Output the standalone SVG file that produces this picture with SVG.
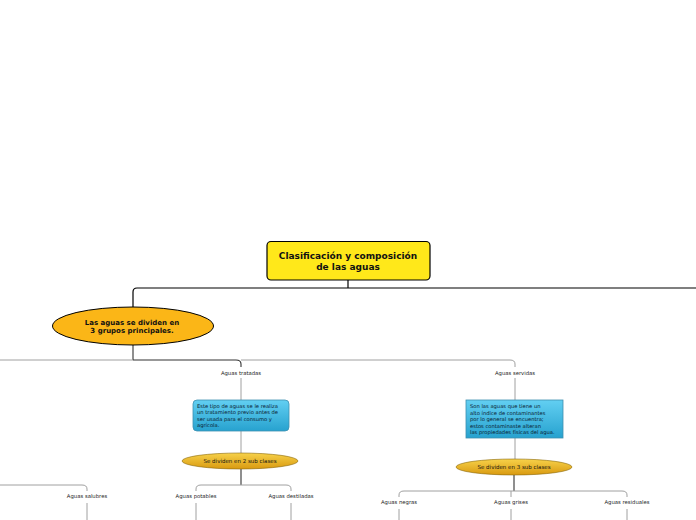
<svg xmlns="http://www.w3.org/2000/svg" width="696" height="520" viewBox="0 0 696 520">
<defs>
<linearGradient id="blue" x1="0" y1="0" x2="0" y2="1">
<stop offset="0" stop-color="#62cff2"/>
<stop offset="1" stop-color="#27a2cf"/>
</linearGradient>
<linearGradient id="gold" x1="0" y1="0" x2="0" y2="1">
<stop offset="0" stop-color="#f7d24a"/>
<stop offset="1" stop-color="#d99a10"/>
</linearGradient>
<style>
.main{fill:none;stroke:#000;stroke-width:1.2}
.dark{fill:none;stroke:#333;stroke-width:1.1}
.gray{fill:none;stroke:#a0a0a0;stroke-width:1}
.t{font-family:"DejaVu Sans",Verdana,sans-serif;fill:#111}
.b{font-weight:bold}
.lbl{font-size:5.3px;text-anchor:middle;fill:#222}
.box{font-size:5.2px;fill:#0a2030}
.sub{font-size:5.5px;text-anchor:middle;fill:#111}
</style>
</defs>
<rect width="696" height="520" fill="#fff"/>
<g id="connectors">
<path class="main" d="M348,280 V288"/>
<path class="main" d="M696,288 H137 Q133,288 133,292 V307"/>
<path class="dark" d="M133,345 V360"/>
<path class="gray" d="M0,360 H133"/>
<path class="dark" d="M133,360 H236 Q241,360 241,364 V367"/>
<path class="gray" d="M241,360 H510 Q515,360 515,364 V367"/>
<path class="gray" d="M241,378 V400"/>
<path class="gray" d="M241,431 V453"/>
<path class="dark" d="M241,469 V485"/>
<path class="gray" d="M201,485 H286 Q291,485 291,489 V491"/>
<path class="gray" d="M201,485 Q196,485 196,489 V491"/>
<path class="gray" d="M0,485 H82 Q87,485 87,489 V491"/>
<path class="gray" d="M87,503 V520"/>
<path class="gray" d="M196,503 V520"/>
<path class="gray" d="M291,503 V520"/>
<path class="gray" d="M515,378 V400"/>
<path class="gray" d="M515,438 V459"/>
<path class="dark" d="M514,475 V491"/>
<path class="gray" d="M404,491 H622 Q627,491 627,495 V497"/>
<path class="gray" d="M404,491 Q399,491 399,495 V497"/>
<path class="gray" d="M511,491 V497"/>
<path class="gray" d="M399,509 V520"/>
<path class="gray" d="M511,509 V520"/>
<path class="gray" d="M627,509 V520"/>
</g>
<g id="root">
<rect x="267" y="241.5" width="163" height="38.5" rx="4" fill="#ffe81a" stroke="#000" stroke-width="1.2"/>
<text class="t b" x="348" y="259" font-size="9" text-anchor="middle">Clasificación y composición</text>
<text class="t b" x="348" y="270" font-size="9" text-anchor="middle">de las aguas</text>
</g>
<g id="grupos">
<ellipse cx="133" cy="326" rx="80.5" ry="19" fill="#fbb617" stroke="#000" stroke-width="1"/>
<text class="t b" x="132" y="324.5" font-size="7" text-anchor="middle">Las aguas se dividen en</text>
<text class="t b" x="132" y="333" font-size="7" text-anchor="middle">3 grupos principales.</text>
</g>
<g id="tratadas">
<text class="t lbl" x="241" y="375">Aguas tratadas</text>
</g>
<g id="tratadas-desc">
<rect x="193" y="400" width="96" height="31" rx="4" fill="url(#blue)" stroke="#3d8fb0" stroke-width="0.8"/>
<text class="t box" x="197" y="408">Este tipo de aguas se le realiza</text>
<text class="t box" x="197" y="414.3">un tratamiento previo antes de</text>
<text class="t box" x="197" y="420.6">ser usada para el consumo y</text>
<text class="t box" x="197" y="426.9">agrícola.</text>
</g>
<g id="sub2">
<ellipse cx="240" cy="461" rx="58" ry="8" fill="url(#gold)" stroke="#8a6a10" stroke-width="0.6"/>
<text class="t sub" x="240" y="463">Se dividen en 2 sub clases</text>
</g>
<g id="salubres"><text class="t lbl" x="87" y="498">Aguas salubres</text></g>
<g id="potables"><text class="t lbl" x="196" y="498">Aguas potables</text></g>
<g id="destiladas"><text class="t lbl" x="291" y="498">Aguas destiladas</text></g>
<g id="servidas">
<text class="t lbl" x="515" y="375">Aguas servidas</text>
</g>
<g id="servidas-desc">
<rect x="466" y="400" width="97" height="38" fill="url(#blue)" stroke="#3d8fb0" stroke-width="0.8"/>
<text class="t box" x="470" y="408">Son las aguas que tiene un</text>
<text class="t box" x="470" y="414.5">alto índice de contaminantes</text>
<text class="t box" x="470" y="421">por lo general se encuentra;</text>
<text class="t box" x="470" y="427.5">estos contaminaste alteran</text>
<text class="t box" x="470" y="434">las propiedades físicas del agua.</text>
</g>
<g id="sub3">
<ellipse cx="514" cy="467" rx="58" ry="8" fill="url(#gold)" stroke="#8a6a10" stroke-width="0.6"/>
<text class="t sub" x="514" y="469">Se dividen en 3 sub clases</text>
</g>
<g id="negras"><text class="t lbl" x="399" y="504">Aguas negras</text></g>
<g id="grises"><text class="t lbl" x="511" y="504">Aguas grises</text></g>
<g id="residuales"><text class="t lbl" x="627" y="504">Aguas residuales</text></g>
</svg>
